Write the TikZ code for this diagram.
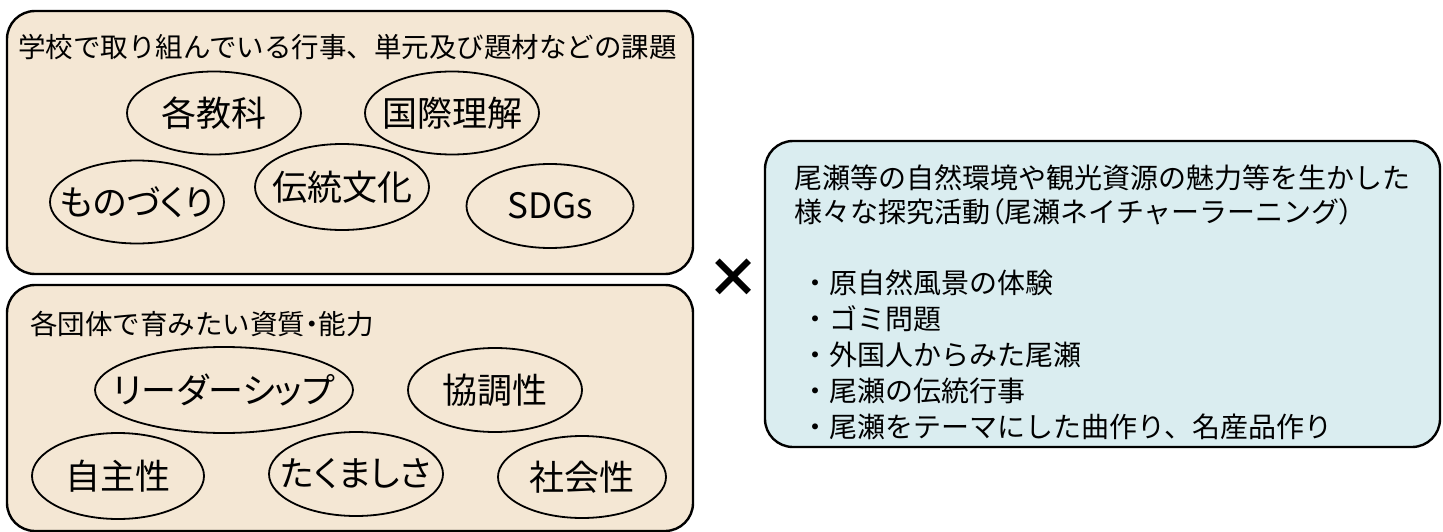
\documentclass[tikz,border=0pt]{standalone}
\usepackage{fontspec}
\setmainfont{Noto Sans CJK JP}
\newfontfamily\pfont{Noto Sans CJK JP}[RawFeature=+palt]
\usetikzlibrary{shapes.geometric}
\definecolor{beige}{HTML}{F4E7D4}
\definecolor{lblue}{HTML}{DAEDF0}
\newcommand\zw[1]{\makebox[0pt]{#1}}
\begin{document}
\begin{tikzpicture}[x=1pt,y=-1pt,
  panel/.style={draw=black, line width=2.4pt, rounded corners=28pt, inner sep=0pt},
  ov/.style={ellipse, draw=black, line width=1.8pt, inner sep=0pt,
    minimum width=174pt, minimum height=84pt, font=\pfont\fontsize{35}{40}\selectfont},
  ttl/.style={anchor=west, inner sep=0pt, font=\fontsize{27.5}{32}\selectfont},
  rtxt/.style={anchor=west, inner sep=0pt, font=\fontsize{28}{32}\selectfont},
  cross/.style={inner sep=0pt, font=\bfseries\fontsize{54}{56}\selectfont}]
\useasboundingbox (0,0) rectangle (1443,532);
% panels
\node (top) [panel, fill=beige, minimum width=686pt, minimum height=263pt] at (350,142.5) {};
\node (bot) [panel, fill=beige, minimum width=686pt, minimum height=246pt] at (350,408) {};
\node (right) [panel, fill=lblue, minimum width=675pt, minimum height=306pt] at (1102.5,294) {};
% top panel
\node (ttop) [ttl] at (18,47) {学校で取り組んでいる行事、単元及び題材などの課題};
\node (e1) [ov, minimum height=83pt] at (214,113) {\zw{各教科}};
\node (e2) [ov, minimum height=83pt] at (452,113) {\zw{国際理解}};
\node (e3) [ov, minimum height=83pt] at (137,202) {\zw{ものづくり}};
\node (e4) [ov, minimum height=86pt] at (342,187) {\zw{伝統文化}};
\node (e5) [ov, minimum width=167pt, minimum height=84pt] at (550,206) {\zw{SDGs}};
% bottom panel
\node (tbot) [ttl] at (30,324) {各団体で育みたい資質{\pfont ・}能力};
\node (f1) [ov, minimum width=258pt, minimum height=86pt] at (224,390) {\zw{リーダーシップ}};
\node (f2) [ov] at (495,390) {\zw{協調性}};
\node (f3) [ov, minimum width=172pt, minimum height=86pt] at (118,476) {\zw{自主性}};
\node (f4) [ov] at (356,474) {\zw{たくましさ}};
\node (f5) [ov, minimum width=168pt, minimum height=82pt] at (582,477) {\zw{社会性}};
% cross
\node (x) [cross] at (733,278) {×};
% right panel
\node (r1) [rtxt] at (794,178) {尾瀬等の自然環境や観光資源の魅力等を生かした};
\node (r2) [rtxt] at (794,212) {様々な探究活動{\pfont （}尾瀬ネイチャーラーニング{\pfont ）}};
\node (i1) [rtxt] at (801,283) {・原自然風景の体験};
\node (i2) [rtxt] at (801,319) {・ゴミ問題};
\node (i3) [rtxt] at (801,355) {・外国人からみた尾瀬};
\node (i4) [rtxt] at (801,391) {・尾瀬の伝統行事};
\node (i5) [rtxt] at (801,427) {・尾瀬をテーマにした曲作り、名産品作り};
\end{tikzpicture}
\end{document}
